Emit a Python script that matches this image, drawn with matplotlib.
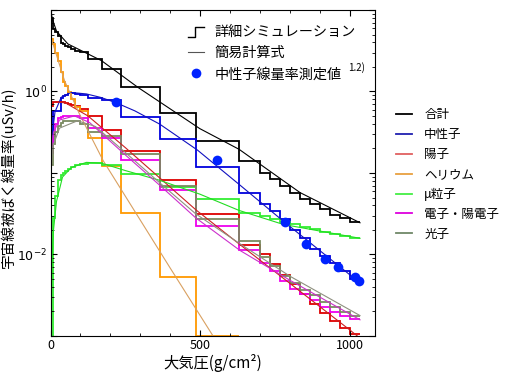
import matplotlib
matplotlib.use("Agg")
import matplotlib.pyplot as plt
from matplotlib.lines import Line2D
from matplotlib.legend_handler import HandlerBase
from matplotlib.ticker import FixedLocator, MultipleLocator, LogLocator, NullFormatter, FuncFormatter

plt.rcParams['font.family'] = ['Noto Sans CJK JP', 'DejaVu Sans']

# bin edges of the detailed simulation (g/cm2)
edges = [0, 8, 16, 25, 34, 42, 50, 58, 69, 83, 97, 125, 173, 234, 364, 484,
         629, 698, 732, 765, 798, 832, 865, 898, 932, 965, 998, 1032]

# detailed simulation (uSv/h per bin)
sim_total = [7.94, 5.89, 5.37, 4.84, 3.98, 3.83, 3.65, 3.48, 3.31, 3.16, 3.02, 2.51, 1.88,
             1.12, 0.552, 0.248, 0.141, 0.101, 0.0836, 0.0692, 0.0575, 0.0479, 0.0412,
             0.0357, 0.0309, 0.0282, 0.0251]
sim_neutron = [0.224, 0.575, 0.575, 0.575, 0.822, 0.871, 0.912, 0.966, 0.955, 0.933, 0.902,
               0.841, 0.783, 0.489, 0.259, 0.117, 0.0575, 0.0417, 0.0339, 0.0269, 0.0200,
               0.0158, 0.0117, 0.00955, 0.00794, 0.00631, 0.00501]
sim_proton = [0.66, 0.733, 0.741, 0.741, 0.741, 0.741, 0.724, 0.708, 0.692, 0.661, 0.603,
              0.501, 0.335, 0.186, 0.0813, 0.0316, 0.0132, 0.0100, 0.00759, 0.00562,
              0.00437, 0.00324, 0.00245, 0.00191, 0.00151, 0.00126, 0.00105]
sim_helium = [4.37, 3.8, 3.0, 2.39, 1.71, 1.29, 1.17, 0.973, 0.805, 0.64, 0.58, 0.272,
              0.122, 0.0324, 0.00537, 0.00101]
sim_muon = [0.0005, 0.0282, 0.0525, 0.0832, 0.0933, 0.1, 0.106, 0.112, 0.119, 0.126, 0.13,
            0.134, 0.126, 0.0977, 0.0676, 0.0479, 0.0324, 0.0295, 0.0269, 0.0251, 0.0234,
            0.0219, 0.0204, 0.0191, 0.0178, 0.017, 0.0158]
sim_electron = [0.178, 0.282, 0.398, 0.468, 0.49, 0.50, 0.50, 0.50, 0.50, 0.50, 0.479, 0.355,
                0.269, 0.145, 0.0617, 0.0224, 0.0115, 0.00776, 0.00631, 0.00468, 0.0038,
                0.00324, 0.00275, 0.00229, 0.00195, 0.00174, 0.00162]
sim_photon = [0.126, 0.224, 0.316, 0.38, 0.407, 0.437, 0.437, 0.437, 0.437, 0.437, 0.398,
              0.316, 0.282, 0.17, 0.0692, 0.0269, 0.0145, 0.00933, 0.00724, 0.0055, 0.00447,
              0.00372, 0.00316, 0.00263, 0.00224, 0.00195, 0.00178]

# simple formula curves
calc_total_x = [0, 7, 20, 58, 170, 292, 498, 629, 832, 1032]
calc_total = [10.0, 7.6, 5.5, 3.83, 2.39, 1.12, 0.35, 0.195, 0.0575, 0.0245]
calc_neutron_x = [0, 5, 15, 36, 69, 120, 169, 220, 281, 364, 490, 629, 776, 1032]
calc_neutron = [0.126, 0.282, 0.562, 0.851, 0.973, 0.933, 0.843, 0.724, 0.579, 0.398, 0.191,
                0.0724, 0.0257, 0.00447]
calc_proton_x = [0, 50, 125, 250, 364, 484, 632, 800, 1000, 1040]
calc_proton = [0.759, 0.724, 0.501, 0.204, 0.0871, 0.0355, 0.0132, 0.00437, 0.00117, 0.00089]
calc_helium_x = [0, 47, 97, 176, 398, 542, 600]
calc_helium = [4.79, 1.35, 0.525, 0.141, 0.00692, 0.001, 0.000447]
calc_muon_x = [0, 3, 6, 10, 20, 40, 70, 120, 170, 250, 364, 498, 629, 776, 1032]
calc_muon = [0.0005, 0.00316, 0.01, 0.02, 0.0447, 0.0891, 0.117, 0.135, 0.132, 0.107, 0.0813,
             0.055, 0.0347, 0.0234, 0.0158]
calc_electron_x = [0, 10, 30, 80, 130, 250, 364, 484, 632, 800, 1032]
calc_electron = [0.158, 0.316, 0.447, 0.501, 0.417, 0.166, 0.0708, 0.0282, 0.0112, 0.00479, 0.00158]
calc_photon_x = [0, 10, 30, 90, 150, 250, 364, 484, 632, 800, 1032]
calc_photon = [0.112, 0.224, 0.355, 0.437, 0.372, 0.178, 0.0759, 0.0316, 0.0135, 0.00537, 0.00178]

# measured neutron dose rate
meas_x = [219, 556, 782, 852, 916, 960, 1015, 1030]
meas_y = [0.733, 0.145, 0.0251, 0.0135, 0.0087, 0.00708, 0.00537, 0.00468]

labels = ['合計', '中性子', '陽子', 'ヘリウム', 'μ粒子', '電子・陽電子', '光子']
hist_colors = ['black', '#0000dd', '#dd0000', '#ff9900', '#33ee33', '#ee00ee', '#7a8a60']
line_colors = ['black', '#1010c0', '#cc2020', '#d9a060', '#22dd22', '#cc30cc', '#8f9080']
leg_colors = ['black', '#2020b0', '#e06060', '#e8a040', '#44ee44', '#dd00dd', '#708868']

sims = [sim_total, sim_neutron, sim_proton, sim_helium, sim_muon, sim_electron, sim_photon]
calcs = [(calc_total_x, calc_total), (calc_neutron_x, calc_neutron), (calc_proton_x, calc_proton),
         (calc_helium_x, calc_helium), (calc_muon_x, calc_muon), (calc_electron_x, calc_electron),
         (calc_photon_x, calc_photon)]

fig = plt.figure(figsize=(5.05, 3.74), dpi=100)
ax = fig.add_axes([0.1, 0.1016, 0.6426, 0.8717])

for vals, col in zip(sims, hist_colors):
    ax.stairs(vals, edges[:len(vals) + 1], color=col, lw=1.3, baseline=None)
for (cx, cy), col in zip(calcs, line_colors):
    ax.plot(cx, cy, color=col, lw=0.8)
ax.plot(meas_x, meas_y, 'o', color='#0022ff', ms=7, mec='none')

ax.set_yscale('log')
ax.set_xlim(0, 1082)
ax.set_ylim(1e-3, 10)
ax.xaxis.set_major_locator(FixedLocator([0, 500, 1000]))
ax.xaxis.set_minor_locator(MultipleLocator(100))
ax.yaxis.set_major_locator(FixedLocator([1e-3, 1e-2, 1e-1, 1, 10]))
ax.yaxis.set_minor_locator(LogLocator(base=10, subs=range(2, 10), numticks=20))
ax.yaxis.set_minor_formatter(NullFormatter())
ylab = {1.0: r'$10^{0}$', 0.01: r'$10^{-2}$'}
ax.yaxis.set_major_formatter(FuncFormatter(lambda v, p: ylab.get(round(v, 6), '')))
ax.tick_params(which='both', direction='in', top=True, right=True, labelsize=9)
ax.tick_params(which='major', length=4, pad=2.5)
ax.tick_params(which='minor', length=2.5)

ax.set_xlabel('大気圧(g/cm²)', fontsize=11, labelpad=1)
ax.set_ylabel('宇宙線被ばく線量率(uSv/h)', fontsize=10.5)
ax.yaxis.set_label_coords(-0.108, 0.486)


class StepHandler(HandlerBase):
    def create_artists(self, legend, orig_handle, xdescent, ydescent, width, height, fontsize, trans):
        x0 = -xdescent
        y0 = -ydescent
        xs = [x0, x0 + width * 0.45, x0 + width * 0.45, x0 + width]
        ys = [y0 - height * 0.1, y0 - height * 0.1, y0 + height * 0.9, y0 + height * 0.9]
        return [Line2D(xs, ys, color='black', lw=1, transform=trans)]


step_proxy = object()
top_handles = [step_proxy,
               Line2D([], [], color='#555555', lw=0.8),
               Line2D([], [], ls='none', marker='o', color='#0022ff', ms=7, mec='none')]
leg1 = ax.legend(top_handles, ['詳細シミュレーション', '簡易計算式', '中性子線量率測定値'],
                 handler_map={step_proxy: StepHandler()}, loc='upper left',
                 bbox_to_anchor=(0.402, 0.975), frameon=False, fontsize=10.2,
                 handlelength=1.1, handletextpad=0.8, labelspacing=0.5, borderpad=0)
ax.text(0.918, 0.824, '1.2)', transform=ax.transAxes, fontsize=7, ha='left', va='center')

right_handles = [Line2D([], [], color=c, lw=1.3) for c in leg_colors]
fig.legend(right_handles, labels, loc='upper left', bbox_to_anchor=(0.772, 0.727),
           frameon=False, fontsize=9, handlelength=1.3, handletextpad=0.95,
           labelspacing=0.55, borderpad=0)

fig.savefig('out.png', dpi=100)
